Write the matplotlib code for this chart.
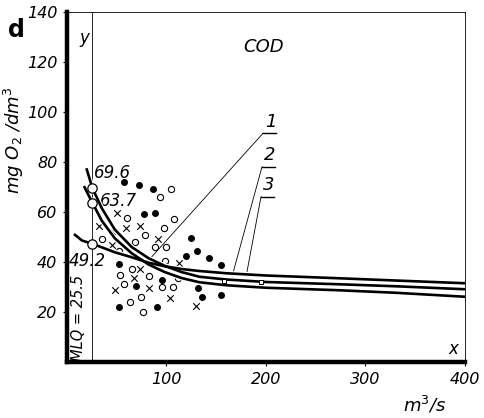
import matplotlib
matplotlib.use('Agg')
import matplotlib.pyplot as plt

# наблюдения (три вида точек)
filled_x = [57, 72, 86, 77, 88, 125, 131, 120, 143, 155, 52, 95, 69, 132, 136, 155, 52, 90]
filled_y = [71.8, 70.8, 69, 59, 59.7, 49.8, 44.2, 42.3, 41.5, 38.9, 39.2, 33, 30.5, 29.7, 26, 27, 22, 22]

open_x = [105, 93, 108, 60, 97, 78, 35, 68, 88, 100, 52, 98, 65, 53, 82, 57, 95, 107, 74, 63, 76, 112]
open_y = [69, 65.9, 57, 57.4, 53.6, 50.8, 49.4, 48, 46, 46, 44.5, 40.5, 37.2, 35, 34.3, 31.3, 30, 30, 25.9, 24.2, 20, 33.5]

cross_x = [50, 32, 45, 59, 73, 91, 45, 113, 73, 67, 48, 82, 104, 130]
cross_y = [59.5, 54.3, 52.2, 53.5, 54.3, 49.4, 46.8, 39.7, 37.1, 33.6, 29, 29.6, 25.5, 22.3]

# кривые регрессии, точки
curve1_x = [19.5, 25.5, 35, 48, 65, 82, 98, 115, 133, 160, 200, 273, 330, 400]
curve1_y = [77.5, 69.6, 61.5, 53, 46, 41.5, 38.5, 36, 34.1, 33, 32, 31.1, 30.3, 29.1]

curve2_x = [17, 25.5, 35, 48, 65, 82, 98, 115, 133, 160, 200, 273, 330, 400]
curve2_y = [70.4, 63.7, 56.5, 49.5, 43.5, 39, 36, 33.6, 31.9, 30.7, 29.7, 28.7, 27.7, 26.1]

curve3_x = [7, 15, 25.5, 48, 65, 82, 98, 115, 133, 160, 200, 273, 330, 400]
curve3_y = [51.2, 48.6, 47.3, 43.9, 41.9, 39.7, 38.3, 37.2, 36.4, 35.5, 34.6, 33.5, 32.6, 31.5]

mlq = 25.5
start_values = [69.6, 63.7, 49.2]
start_y = [69.6, 63.7, 47.3]

# маленькие отметки на кривых
mark_x = [158, 195]
mark_y = [32.6, 31.9]

# выноски 1, 2, 3
leader_labels = ['1', '2', '3']
leader_top_x = [197, 196, 195]
leader_top_y = [91.5, 78.1, 66.1]
leader_end_x = [85, 166, 180]
leader_end_y = [42, 34.4, 34.2]

y_ticks = [20, 40, 60, 80, 100, 120, 140]
x_ticks = [100, 200, 300, 400]


def plot_cod():
    fig = plt.figure(figsize=(4.85, 4.18), dpi=100)
    ax = fig.add_axes([67 / 485, 56 / 418, 398 / 485, 350 / 418])

    ax.set_xlim(0, 400)
    ax.set_ylim(0, 140)

    # рамка
    ax.spines['left'].set_linewidth(3.2)
    ax.spines['bottom'].set_linewidth(3.2)
    ax.spines['top'].set_linewidth(0.6)
    ax.spines['right'].set_linewidth(0.6)

    ax.set_xticks(x_ticks)
    ax.set_yticks(y_ticks)
    ax.tick_params(length=3, width=0.8, pad=4, labelsize=11.5)
    for lab in ax.get_xticklabels() + ax.get_yticklabels():
        lab.set_fontstyle('italic')

    # MLQ
    ax.axvline(mlq, color='black', lw=0.6)

    # точки
    ax.scatter(filled_x, filled_y, s=16, color='black', zorder=3)
    ax.scatter(open_x, open_y, s=20, facecolors='white', edgecolors='black', linewidths=0.8, zorder=3)
    ax.scatter(cross_x, cross_y, s=22, marker='x', color='black', linewidths=0.8, zorder=3)

    # кривые
    for cx, cy in [(curve1_x, curve1_y), (curve2_x, curve2_y), (curve3_x, curve3_y)]:
        ax.plot(cx, cy, color='white', lw=3.6, zorder=4, solid_capstyle='butt')
        ax.plot(cx, cy, color='black', lw=1.9, zorder=5, solid_capstyle='butt')
    ax.scatter(mark_x, mark_y, s=10, marker='s', facecolors='white', edgecolors='black', linewidths=0.7, zorder=6)

    ax.scatter([mlq] * 3, start_y, s=45, facecolors='white', edgecolors='black', linewidths=0.9, zorder=7)

    # подписи значений
    ax.text(27, 75.5, f'{start_values[0]}', fontsize=12, style='italic', ha='left', va='center')
    ax.text(33.5, 64.5, f'{start_values[1]}', fontsize=12, style='italic', ha='left', va='center')
    ax.text(2, 40.5, f'{start_values[2]}', fontsize=12, style='italic', ha='left', va='center', zorder=8)

    # выноски
    for lab, tx, ty, ex, ey in zip(leader_labels, leader_top_x, leader_top_y, leader_end_x, leader_end_y):
        ax.plot([ex, tx], [ey, ty], color='black', lw=0.6, zorder=2)
        ax.plot([tx, tx + 13], [ty, ty], color='black', lw=1.0)
        ax.text(tx + 8, ty + 1, lab, fontsize=13, style='italic', ha='center', va='bottom')

    ax.text(12, 129.5, 'y', fontsize=12, style='italic', ha='left', va='center')
    ax.text(393, 1.5, 'x', fontsize=12, style='italic', ha='right', va='bottom')
    ax.text(198, 126, 'COD', fontsize=13, style='italic', ha='center', va='center')
    ax.text(12, 17.5, 'MLQ = 25.5', fontsize=10.5, style='italic', rotation=90, ha='center', va='center')

    fig.text(16 / 485, 1 - 30 / 418, 'd', fontsize=17, fontweight='bold', ha='center', va='center')
    fig.text(14 / 485, 1 - 140 / 418, r'mg O$_2$ /dm$^3$', fontsize=13, style='italic',
             rotation=90, ha='center', va='center')
    fig.text(425 / 485, 1 - 405 / 418, r'm$^3$/s', fontsize=13, style='italic', ha='center', va='center')

    return fig


def main():
    fig = plot_cod()
    fig.savefig('out.png', dpi=100)


if __name__ == '__main__':
    main()
